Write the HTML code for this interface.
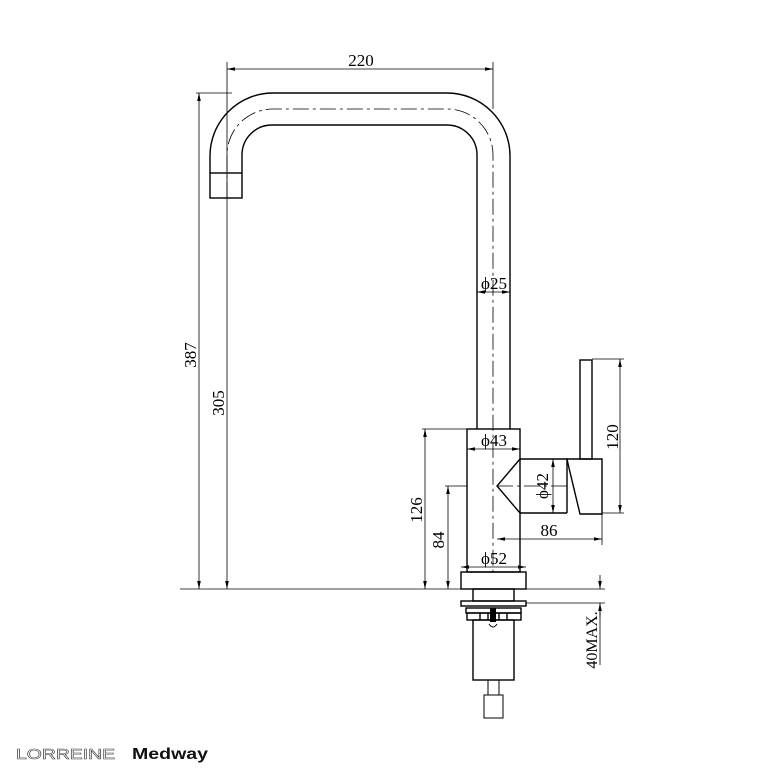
<!DOCTYPE html>
<html><head><style>body{margin:0;background:#fff}svg{display:block}</style></head><body>
<svg width="775" height="777" viewBox="0 0 775 777" xmlns="http://www.w3.org/2000/svg" font-family="Liberation Serif, serif">
<defs><marker id="a" markerWidth="8" markerHeight="6" refX="8" refY="3" orient="auto-start-reverse" markerUnits="userSpaceOnUse"><path d="M0,1.2 L8,3 L0,4.8z" fill="#000"/></marker></defs>
<g fill="none" stroke="#000" stroke-width="1.4">
<!-- spout -->
<path d="M210,173 L210,156 A63,63 0 0 1 273,93 L447,93 A63,63 0 0 1 510,156 L510,429"/>
<path d="M242,173 L242,155 A30,30 0 0 1 272,125 L447,125 A30,30 0 0 1 477,155 L477,429"/>
<rect x="210" y="173" width="32" height="25"/>
<!-- body -->
<rect x="467" y="429" width="53" height="143"/>
<rect x="461" y="572" width="65" height="17"/>
<path d="M520,459 L497,486 L520,513"/>
<path d="M520,459 L567,459 M520,513 L567,513 M567,459 L567,513"/>
<path d="M567,459 L602,459 L602,514 L580,514 L569,468 Z" />
<rect x="580" y="360" width="12" height="99"/>
<!-- under -->
<rect x="473" y="589" width="41" height="12"/>
<rect x="461" y="601" width="65" height="5"/>
<rect x="466" y="608" width="55" height="5"/>
<rect x="467" y="613" width="54" height="7"/>
<path d="M480,613v7M488,613v7M499,613v7M507,613v7"/>
<rect x="473" y="620" width="41" height="60"/>
<rect x="488" y="680" width="11" height="15" stroke-width="1"/>
<rect x="484" y="695" width="19" height="23" stroke-width="1"/>
</g>
<rect x="490" y="608" width="6" height="14" fill="#000"/>
<path d="M489,624 q4,6 8,0" stroke="#000" fill="none"/>
<!-- center lines -->
<g stroke="#000" stroke-width="0.8" fill="none" stroke-dasharray="16,4,3,4">
<path d="M227,198 L227,156 A46,46 0 0 1 273,109 L447,109 A46,46 0 0 1 493,155 L493,575"/>
<path d="M497,486 L570,486"/>
</g>
<!-- dims -->
<g stroke="#000" stroke-width="0.8" fill="none">
<path d="M180,589 L605,589"/>
<path d="M227,62 V198 M493,62 V109"/>
<path d="M227,69 H493" marker-start="url(#a)" marker-end="url(#a)"/>
<path d="M196,93 H232"/>
<path d="M199,93 V589" marker-start="url(#a)" marker-end="url(#a)"/>
<path d="M227,198 V589" marker-end="url(#a)"/>
<path d="M477,292 H510" marker-start="url(#a)" marker-end="url(#a)"/>
<path d="M422,429 H467 M445,486 H467"/>
<path d="M425,429 V589" marker-start="url(#a)" marker-end="url(#a)"/>
<path d="M448,486 V589" marker-start="url(#a)" marker-end="url(#a)"/>
<path d="M467,449 H520" marker-start="url(#a)" marker-end="url(#a)"/>
<path d="M461,567 H526" marker-start="url(#a)" marker-end="url(#a)"/>
<path d="M553,459 V513" marker-start="url(#a)" marker-end="url(#a)"/>
<path d="M592,359 H624 M602,513 H624"/>
<path d="M620,359 V513" marker-start="url(#a)" marker-end="url(#a)"/>
<path d="M602,514 V545"/>
<path d="M497,539 H602" marker-start="url(#a)" marker-end="url(#a)"/>
<path d="M526,603 H605"/>
<path d="M600,575 V589" marker-end="url(#a)"/>
<path d="M600,603 V665"/>
<path d="M600,617 V603" marker-end="url(#a)"/>
</g>
<g font-size="17" fill="#000" text-anchor="middle">
<text x="361" y="66">220</text>
<text x="494" y="289">ϕ25</text>
<text x="494" y="446">ϕ43</text>
<text x="494" y="564">ϕ52</text>
<text x="549" y="536">86</text>
<text transform="translate(196,355) rotate(-90)">387</text>
<text transform="translate(224,403) rotate(-90)">305</text>
<text transform="translate(422,510) rotate(-90)">126</text>
<text transform="translate(444,540) rotate(-90)">84</text>
<text transform="translate(548,486) rotate(-90)">ϕ42</text>
<text transform="translate(618,437) rotate(-90)">120</text>
<text transform="translate(597,640) rotate(-90)" font-size="16">40MAX.</text>
</g>
<text x="16" y="759" font-family="Liberation Sans, sans-serif" font-size="15" fill="#fff" stroke="#444" stroke-width="0.6" textLength="99" lengthAdjust="spacingAndGlyphs">LORREINE</text>
<text x="132" y="759" font-family="Liberation Sans, sans-serif" font-size="16" font-weight="bold" fill="#111" textLength="76" lengthAdjust="spacingAndGlyphs">Medway</text>
</svg>
</body></html>
